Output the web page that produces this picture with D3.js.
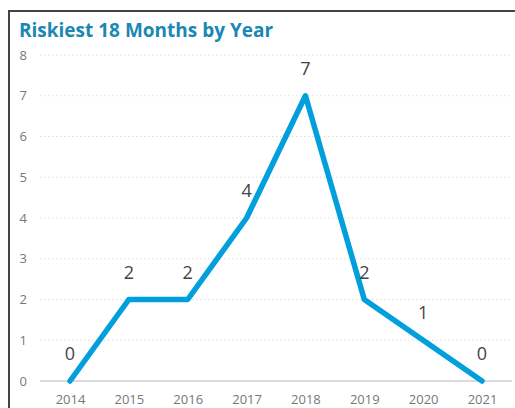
<!DOCTYPE html>
<html>
<head>
<meta charset="utf-8">
<script src="https://cdn.jsdelivr.net/npm/d3@7"></script>
<style>
    body { margin: 0; background: #fff; overflow: hidden; }
    svg { display: block; font-family: "Open Sans", "Noto Sans", sans-serif; }
</style>
</head>
<body>
<div id="chart"></div>
<script>
// Values
const years = ["2014", "2015", "2016", "2017", "2018", "2019", "2020", "2021"];
const counts = [0, 2, 2, 4, 7, 2, 1, 0];
const yTicks = [0, 1, 2, 3, 4, 5, 6, 7, 8];

const W = 515, H = 408;

const svg = d3.select("#chart").append("svg")
    .attr("width", W)
    .attr("height", H);

// frame border (top + left visible)
svg.append("path")
    .attr("d", `M9,${H} V11 H${W}`)
    .attr("fill", "none")
    .attr("stroke", "#444")
    .attr("stroke-width", 2);

svg.append("text")
    .attr("x", 19)
    .attr("y", 37)
    .attr("fill", "#1a87b4")
    .style("font-size", "19px")
    .style("font-weight", "700")
    .text("Riskiest 18 Months by Year");

// scales
const x = d3.scalePoint().domain(years).range([70, 482]);
const y = d3.scaleLinear().domain([0, 8]).range([381, 55]);

// gridlines
svg.append("g").selectAll("line")
    .data(yTicks.filter(d => d > 0))
    .enter()
    .append("line")
    .attr("x1", 40).attr("x2", 512)
    .attr("y1", d => y(d)).attr("y2", d => y(d))
    .attr("stroke", "#dedede")
    .attr("stroke-dasharray", "1.5,2.5");

// baseline
svg.append("line")
    .attr("x1", 40).attr("x2", 512)
    .attr("y1", y(0)).attr("y2", y(0))
    .attr("stroke", "#cfcfcf")
    .attr("stroke-width", 1.5);

// y axis
const yAxis = svg.append("g")
    .attr("transform", "translate(27,0)")
    .call(d3.axisLeft(y).tickValues(yTicks).tickSize(0).tickPadding(0));
yAxis.select(".domain").remove();
yAxis.selectAll("text")
    .attr("fill", "#777")
    .style("font-size", "13px")
    .style("font-family", "'Open Sans', sans-serif");

// x axis (kept just inside the bottom edge)
const xAxis = svg.append("g")
    .attr("transform", `translate(0,${y(0)})`)
    .call(d3.axisBottom(x).tickSize(0).tickPadding(14));
xAxis.select(".domain").remove();
xAxis.selectAll("text")
    .attr("fill", "#777")
    .style("font-size", "13px")
    .style("font-family", "'Open Sans', sans-serif");

// line
const line = d3.line()
    .x((d, i) => x(years[i]))
    .y(d => y(d));

svg.append("path")
    .datum(counts)
    .attr("d", line)
    .attr("fill", "none")
    .attr("stroke", "#01a0dd")
    .attr("stroke-width", 5.5)
    .attr("stroke-linecap", "round")
    .attr("stroke-linejoin", "round");

// data labels
svg.selectAll(".lbl")
    .data(counts)
    .enter()
    .append("text")
    .attr("class", "lbl")
    .attr("x", (d, i) => x(years[i]))
    .attr("y", d => y(d) - 21)
    .attr("text-anchor", "middle")
    .attr("fill", "#444")
    .style("font-size", "18px")
    .text(d => d);
</script>
</body>
</html>
